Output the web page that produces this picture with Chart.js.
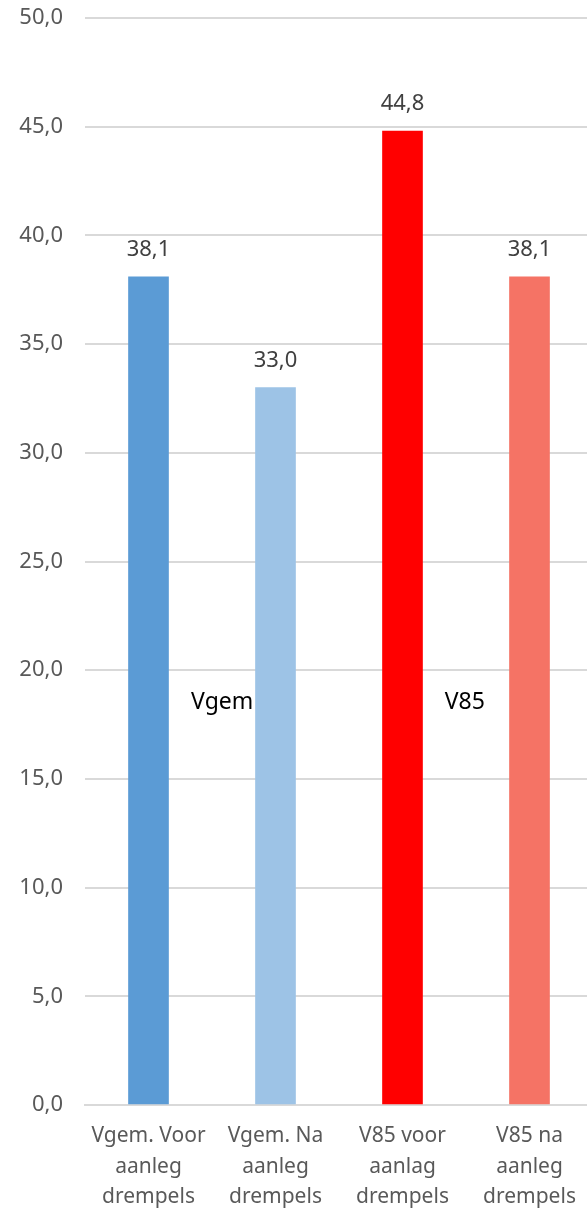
<!DOCTYPE html>
<html>
<head>
<meta charset="utf-8">
<script src="https://cdn.jsdelivr.net/npm/chart.js@4"></script>
<style>
  html, body { margin: 0; padding: 0; background: #fff; overflow: hidden; }
  #wrap { width: 587px; height: 1210px; overflow: hidden; }
</style>
</head>
<body>
<div id="wrap"><canvas id="grafico" width="593" height="1210"></canvas></div>
<script>
// dados
const categorias = [
  ['Vgem. Voor', 'aanleg', 'drempels'],
  ['Vgem. Na', 'aanleg', 'drempels'],
  ['V85 voor', 'aanlag', 'drempels'],
  ['V85 na', 'aanleg', 'drempels']
];
const valores = [38.1, 33.0, 44.8, 38.1];
const cores = ['#5B9BD5', '#9DC3E6', '#FF0000', '#F57365'];
const yMin = 0, yMax = 50, yPasso = 5;

// rotulos soltos dentro do grafico: [texto, posicao x (indice), valor y]
const rotulos = [['Vgem', 0.58, 18.5], ['V85', 2.49, 18.5]];

const fonte = '"Noto Sans", sans-serif';
const fmt = v => v.toFixed(1).replace('.', ',');

const valoresPlugin = {
  id: 'valores',
  afterDatasetsDraw(chart) {
    const ctx = chart.ctx;
    const meta = chart.getDatasetMeta(0);
    ctx.save();
    ctx.font = '22px ' + fonte;
    ctx.fillStyle = '#404040';
    ctx.textAlign = 'center';
    ctx.textBaseline = 'middle';
    meta.data.forEach((bar, i) => {
      ctx.fillText(fmt(valores[i]), bar.x, bar.y - 27);
    });
    // textos Vgem / V85
    ctx.font = '23px ' + fonte;
    ctx.fillStyle = '#000';
    const x = chart.scales.x, y = chart.scales.y;
    rotulos.forEach(r => {
      const px = x.getPixelForValue(0) + (x.getPixelForValue(1) - x.getPixelForValue(0)) * r[1];
      ctx.fillText(r[0], px, y.getPixelForValue(r[2]));
    });
    ctx.restore();
  }
};

new Chart(document.getElementById('grafico'), {
  type: 'bar',
  data: {
    labels: categorias,
    datasets: [{
      data: valores,
      backgroundColor: cores,
      barThickness: 40
    }]
  },
  options: {
    responsive: false,
    animation: false,
    devicePixelRatio: 1,
    layout: { padding: { top: 18, left: 0, right: 0, bottom: 0 } },
    plugins: { legend: { display: false }, tooltip: { enabled: false } },
    scales: {
      x: {
        grid: { display: false },
        border: { color: '#D9D9D9', width: 2 },
        ticks: {
          color: '#595959',
          font: { family: fonte, size: 21, lineHeight: 1.45 },
          padding: 8,
          maxRotation: 0,
          autoSkip: false
        },
        afterFit(s) { s.height = 105; s.paddingLeft = 0; s.paddingRight = 0; }
      },
      y: {
        min: yMin, max: yMax,
        ticks: {
          stepSize: yPasso,
          color: '#595959',
          font: { family: fonte, size: 22 },
          padding: 22,
          callback: v => fmt(v)
        },
        grid: { color: '#D9D9D9', lineWidth: 2, drawTicks: false },
        border: { display: false },
        afterFit(s) { s.width = 85; s.paddingTop = 0; s.paddingBottom = 0; }
      }
    }
  },
  plugins: [valoresPlugin]
});
</script>
</body>
</html>
